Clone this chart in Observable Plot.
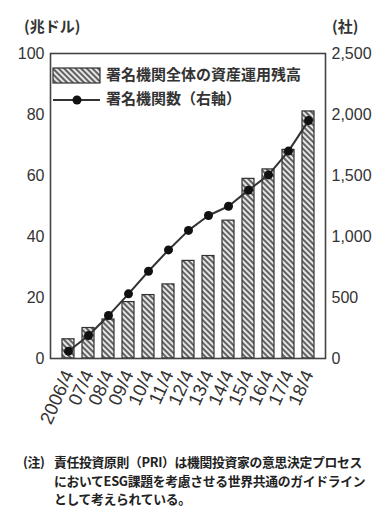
<!DOCTYPE html>
<html>
<head>
<meta charset="utf-8">
<script src="https://cdn.jsdelivr.net/npm/d3@7"></script>
<script src="https://cdn.jsdelivr.net/npm/@observablehq/plot@0.6"></script>
<style>
  html, body { margin: 0; padding: 0; background: #fff; overflow: hidden; }
  #chart svg { display: block; }
  #note {
    font-family: "Noto Sans CJK JP", sans-serif;
    font-size: 12.8px;
    letter-spacing: -0.3px;
    font-weight: 700;
    color: #222;
    line-height: 18.5px;
    white-space: nowrap;
    display: flex;
    padding-top: 3px;
  }
  #note .mark { flex: 0 0 auto; width: 31px; padding-left: 23px; box-sizing: content-box; }
  #note .body { flex: 0 0 auto; }
</style>
</head>
<body>
<div id="chart"></div>
<div id="note"><span class="mark">(注)</span><span class="body">責任投資原則（PRI）は機関投資家の意思決定プロセス<br>においてESG課題を考慮させる世界共通のガイドライン<br>として考えられている。</span></div>
<script>
// 年度（各年4月）
const periods = ["2006/4", "07/4", "08/4", "09/4", "10/4", "11/4", "12/4", "13/4", "14/4", "15/4", "16/4", "17/4", "18/4"];
// 署名機関全体の資産運用残高（兆ドル）
const assets = [6.3, 10, 12.8, 18.5, 20.8, 24.3, 32, 33.6, 45.2, 58.9, 62, 68.4, 81];
// 署名機関数（社）
const signatories = [60, 188, 352, 530, 715, 890, 1050, 1172, 1248, 1380, 1505, 1700, 1950];
// 軸目盛
const leftTicks = [0, 20, 40, 60, 80, 100];
const rightTicks = [0, 500, 1000, 1500, 2000, 2500];
// 右軸 2,500社 = 左軸 100兆ドル
const ratio = 25;

const rows = periods.map((p, i) => ({ period: p, assets: assets[i], count: signatories[i] }));
const comma = d3.format(",");

const chart = Plot.plot({
  width: 378,
  height: 450,
  marginLeft: 50,
  marginRight: 53,
  marginTop: 53,
  marginBottom: 92,
  style: { fontFamily: "'Liberation Sans', Arial, sans-serif", fontSize: "16px", color: "#333", background: "#fff", overflow: "visible" },
  x: { domain: periods, padding: 0.42, label: null, axis: null },
  y: { domain: [0, 100], label: null, axis: null },
  marks: [
    Plot.barY(rows, { x: "period", y: "assets", fill: "url(#hatch)", stroke: "#333", strokeWidth: 1.2 }),
    Plot.line(rows, { x: "period", y: d => d.count / ratio, stroke: "#333", strokeWidth: 2 }),
    Plot.dot(rows, { x: "period", y: d => d.count / ratio, r: 4.5, fill: "#111", stroke: "none" }),
    Plot.axisY(leftTicks, { anchor: "left", tickSize: 0, tickPadding: 6, fontSize: 16, label: null }),
    Plot.axisY(rightTicks.map(v => v / ratio), { anchor: "right", tickSize: 0, tickPadding: 6, fontSize: 16, label: null, tickFormat: d => comma(Math.round(d * ratio)) }),
    Plot.axisX({ anchor: "bottom", tickSize: 0, tickPadding: 13, tickRotate: -66, fontSize: 18.5, label: null }),
    Plot.frame({ stroke: "#444", strokeWidth: 1.6 })
  ]
});

const svg = d3.select(chart);

// 斜線ハッチング
const pat = svg.insert("defs", ":first-child").append("pattern")
  .attr("id", "hatch")
  .attr("patternUnits", "userSpaceOnUse")
  .attr("width", 4).attr("height", 4)
  .attr("patternTransform", "rotate(-45)");
pat.append("rect").attr("width", 4).attr("height", 4).attr("fill", "#e6e6e6");
pat.append("line").attr("x1", 1).attr("y1", 0).attr("x2", 1).attr("y2", 4)
  .attr("stroke", "#4a4a4a").attr("stroke-width", 1.7);

const jp = "'Noto Sans CJK JP', sans-serif";

// 軸の単位
const units = svg.append("g").attr("font-family", jp).attr("font-size", 15).attr("font-weight", 700)
  .attr("fill", "#333").attr("text-anchor", "start");
units.append("text").attr("x", 24).attr("y", 28).attr("dominant-baseline", "middle").text("(兆ドル)");
units.append("text").attr("x", 332).attr("y", 28).attr("dominant-baseline", "middle").text("(社)");

// 凡例
const lg = svg.append("g").attr("font-family", jp).attr("font-size", 15).attr("font-weight", 700)
  .attr("fill", "#333").attr("text-anchor", "start");
lg.append("rect").attr("x", 53).attr("y", 68).attr("width", 47).attr("height", 15)
  .attr("fill", "url(#hatch)").attr("stroke", "#333").attr("stroke-width", 1.2);
lg.append("text").attr("x", 106).attr("y", 76).attr("dominant-baseline", "middle").text("署名機関全体の資産運用残高");
lg.append("line").attr("x1", 53).attr("x2", 100).attr("y1", 100).attr("y2", 100)
  .attr("stroke", "#333").attr("stroke-width", 2);
lg.append("circle").attr("cx", 77).attr("cy", 100).attr("r", 4.5).attr("fill", "#111");
lg.append("text").attr("x", 106).attr("y", 100).attr("dominant-baseline", "middle").text("署名機関数（右軸）");

document.getElementById("chart").appendChild(chart);
</script>
</body>
</html>
